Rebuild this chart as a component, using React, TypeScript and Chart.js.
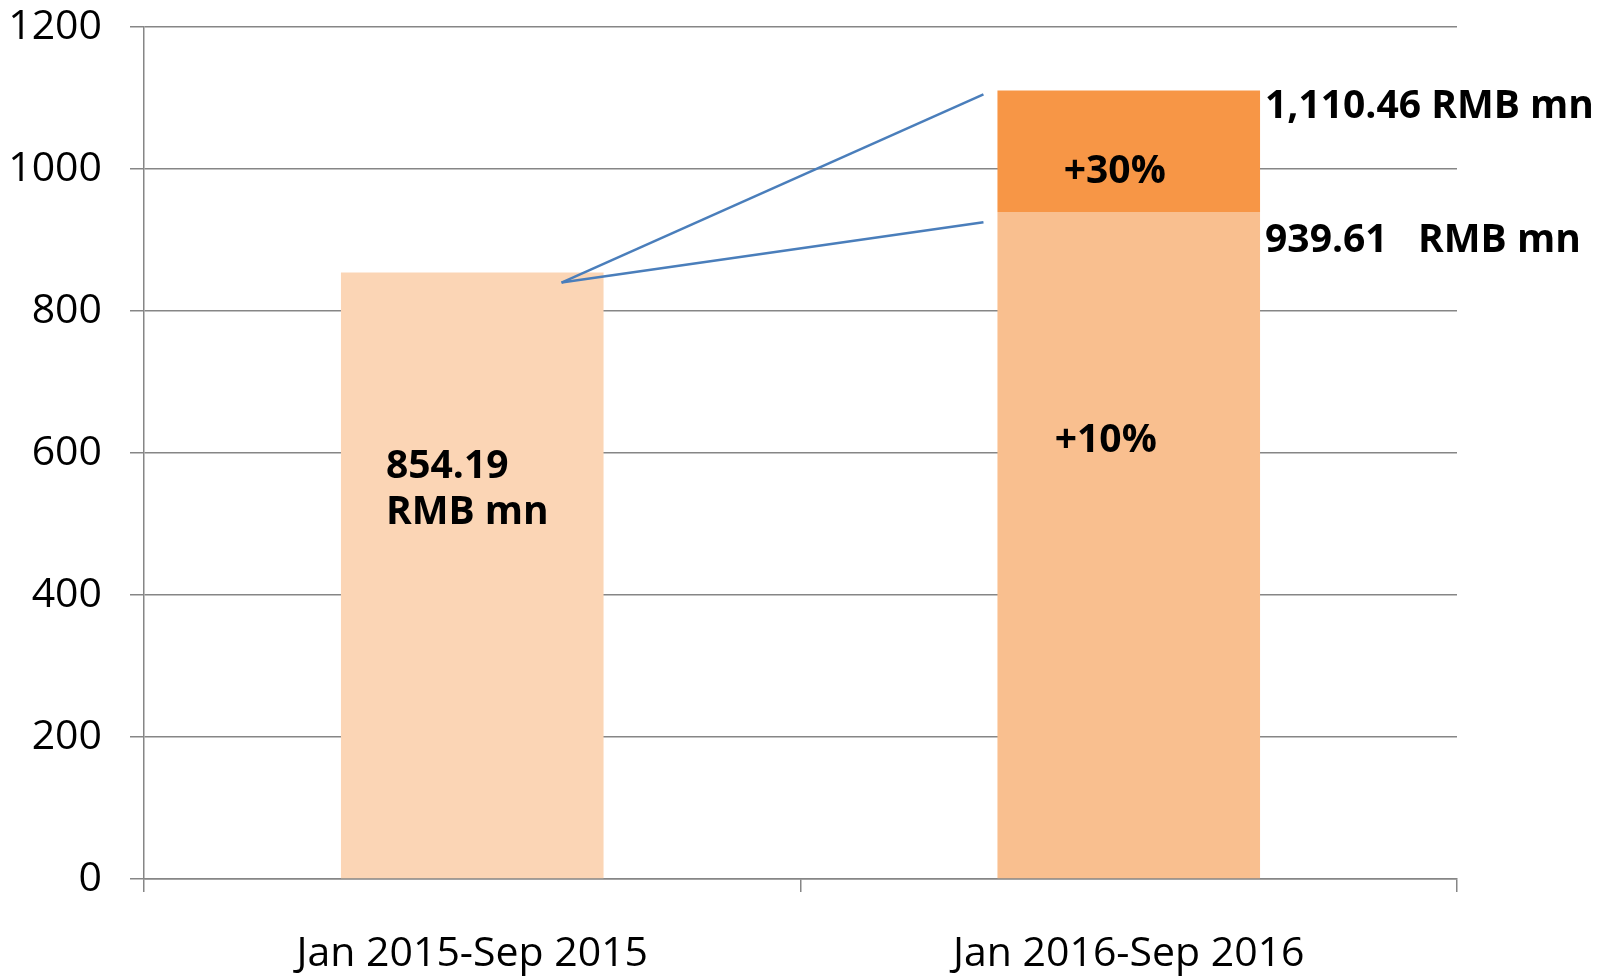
import React, { useEffect, useRef } from "react";
import { Chart, registerables } from "chart.js";

Chart.register(...registerables);

const categories = ["Jan 2015-Sep 2015", "Jan 2016-Sep 2016"];
const baseValues = [854.19, 939.61];
const increaseValues = [0, 170.85];
const baseColors = ["#FBD5B5", "#F9BF8F"];
const increaseColor = "#F79646";
const yMin = 0;
const yMax = 1200;
const yStep = 200;
const connectorFrom = 840;
const connectorTo = [1105, 925];
const totalLabel = "1,110.46 RMB mn";
const baseLabel2 = "939.61   RMB mn";
const baseLabel1 = ["854.19", "RMB mn"];
const growthTotal = "+30%";
const growthBase = "+10%";

const FONT = "'Open Sans', 'DejaVu Sans', sans-serif";

const annotationPlugin = {
  id: "annotations",
  afterDatasetsDraw(chart: any) {
    const ctx = chart.ctx;
    const y = chart.scales.y;
    const m0 = chart.getDatasetMeta(0).data;
    const m1 = chart.getDatasetMeta(1).data;
    const b1 = m0[0];
    const b2 = m0[1];
    const b2top = m1[1];
    const b1Left = b1.x - b1.width / 2;
    const b2Left = b2.x - b2.width / 2;
    const b2Right = b2.x + b2.width / 2;

    ctx.save();
    ctx.strokeStyle = "#4A7EBB";
    ctx.lineWidth = 2.5;
    const sx = b1.x + b1.width * 0.34;
    const sy = y.getPixelForValue(connectorFrom);
    connectorTo.forEach((v) => {
      ctx.beginPath();
      ctx.moveTo(sx, sy);
      ctx.lineTo(b2Left - 14, y.getPixelForValue(v));
      ctx.stroke();
    });

    ctx.fillStyle = "#000";
    ctx.font = `bold 39px ${FONT}`;
    ctx.textBaseline = "middle";
    ctx.textAlign = "left";
    ctx.fillText(totalLabel, b2Right + 5, b2top.y + 16);
    ctx.fillText(baseLabel2, b2Right + 5, b2.y + 29);

    ctx.fillText(baseLabel1[0], b1Left + 45, y.getPixelForValue(581));
    ctx.fillText(baseLabel1[1], b1Left + 45, y.getPixelForValue(516));

    ctx.textAlign = "center";
    ctx.fillText(growthTotal, b2.x - 14, (b2top.y + b2.y) / 2 + 21);
    ctx.fillText(growthBase, b2.x - 23, y.getPixelForValue(600) - 12);
    ctx.restore();
  },
};

export default function App() {
  const ref = useRef<HTMLCanvasElement | null>(null);

  useEffect(() => {
    document.body.style.margin = "0";
    const canvas = ref.current!;
    const chart = new Chart(canvas, {
      type: "bar",
      data: {
        labels: categories,
        datasets: [
          {
            label: "Base",
            data: baseValues,
            backgroundColor: baseColors,
            barPercentage: 0.8,
            categoryPercentage: 0.5,
          },
          {
            label: "Increase",
            data: increaseValues,
            backgroundColor: increaseColor,
            barPercentage: 0.8,
            categoryPercentage: 0.5,
          },
        ],
      },
      options: {
        responsive: false,
        animation: false,
        devicePixelRatio: 1,
        layout: { padding: { top: 27, right: 151, left: 0, bottom: 0 } },
        plugins: {
          legend: { display: false },
          tooltip: { enabled: false },
        },
        scales: {
          x: {
            stacked: true,
            offset: true,
            grid: {
              offset: true,
              drawOnChartArea: false,
              drawTicks: true,
              tickLength: 13,
              color: "#868686",
              lineWidth: 1.5,
            },
            border: { color: "#868686", width: 1.5 },
            ticks: {
              color: "#000",
              font: { family: FONT, size: 41 },
              padding: 38,
              maxRotation: 0,
            },
            afterFit(scale: any) {
              scale.height = 101;
              scale.paddingLeft = 0;
              scale.paddingRight = 0;
            },
          },
          y: {
            stacked: true,
            min: yMin,
            max: yMax,
            ticks: {
              stepSize: yStep,
              color: "#000",
              font: { family: FONT, size: 41 },
              padding: 28,
              callback: (v: any) => String(v),
            },
            grid: {
              color: "#868686",
              lineWidth: 1.5,
              tickLength: 14,
            },
            border: { color: "#868686", width: 1.5 },
            afterFit(scale: any) {
              scale.width = 144;
              scale.paddingTop = 0;
              scale.paddingBottom = 0;
            },
          },
        },
      },
      plugins: [annotationPlugin],
    });
    return () => chart.destroy();
  }, []);

  return (
    <div style={{ position: "absolute", left: 0, top: 0, width: 1608, height: 980, background: "#fff" }}>
      <canvas ref={ref} width={1608} height={980} />
    </div>
  );
}
